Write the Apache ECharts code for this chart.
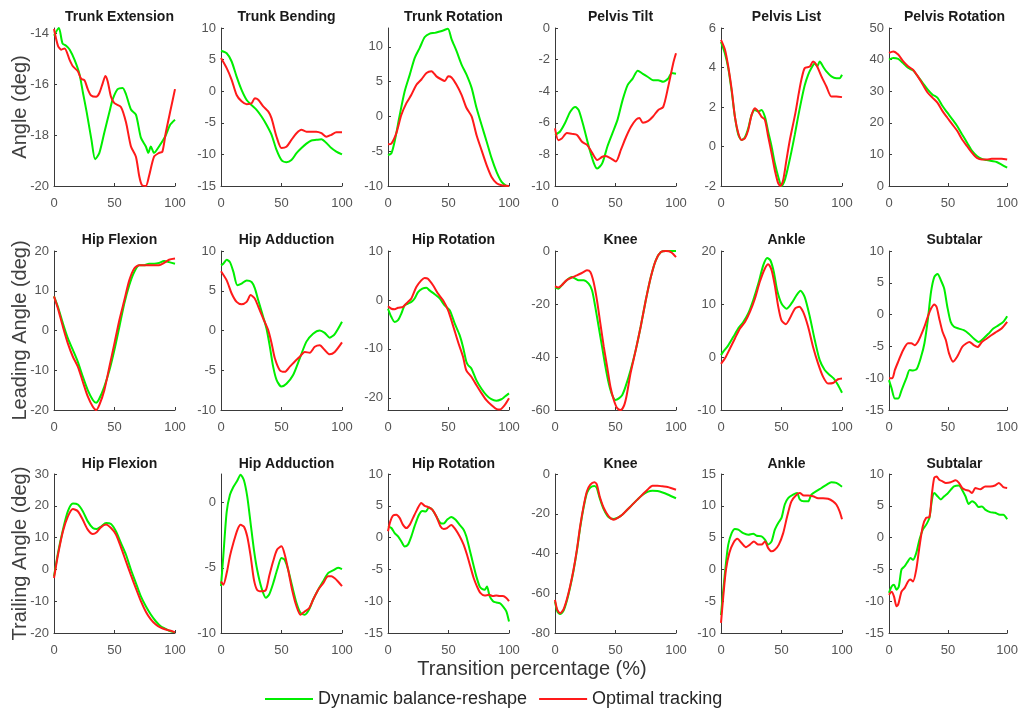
<!DOCTYPE html>
<html>
<head>
<meta charset="utf-8">
<script src="https://cdn.jsdelivr.net/npm/echarts@6/dist/echarts.min.js"></script>
<style>html,body{margin:0;padding:0;background:#fff;}#chart{width:1021px;height:709px;}</style>
</head>
<body>
<div id="chart"></div>
<script>
// ---------- DATA ----------
const seriesNames = ['Dynamic balance-reshape', 'Optimal tracking'];
const titles = ['Trunk Extension','Trunk Bending','Trunk Rotation','Pelvis Tilt','Pelvis List','Pelvis Rotation',
  'Hip Flexion','Hip Adduction','Hip Rotation','Knee','Ankle','Subtalar',
  'Hip Flexion','Hip Adduction','Hip Rotation','Knee','Ankle','Subtalar'];
const rowNames = ['Angle (deg)', 'Leading Angle (deg)', 'Trailing Angle (deg)'];
const xAxisName = 'Transition percentage (%)';
const xTicks = [0, 50, 100];
const yMin  = [-20, -15, -10, -10, -2, 0,   -20, -10, -22.5, -60, -10, -15,   -20, -10, -15, -80, -10, -15];
const yMax  = [-13.8, 10, 12.7, 0, 6, 50,   20, 10, 10, 0, 20, 10,            30, 2.2, 10, 0, 15, 10];
const yStep = [2, 5, 5, 2, 2, 10,           10, 5, 10, 20, 10, 5,             10, 5, 5, 20, 5, 5];
const yBase = [2, 5, 5, 2, 2, 10,           10, 5, 2.5, 20, 10, 5,            10, 5, 5, 20, 5, 5];

// Row 1
const trunkExtG = [[0,-14.1],[4,-13.8],[7,-14.4],[10,-14.5],[13,-14.65],[17,-15.05],[21,-15.6],[24,-16.36],[27,-17.1],[31,-18.2],[34,-18.95],[37.5,-18.7],[41.6,-17.9],[45.8,-17.1],[48.5,-16.6],[52.6,-16.2],[56.7,-16.15],[59.5,-16.4],[63.6,-17.0],[67.7,-17.2],[71.8,-18.1],[75.9,-18.45],[78,-18.7],[80,-18.45],[82.7,-18.7],[86.8,-18.45],[92,-18.05],[96,-17.6],[100,-17.4]];
const trunkExtR = [[0,-13.84],[3.3,-14.5],[6,-14.65],[8.8,-14.6],[12.9,-15.05],[15.6,-15.3],[19.7,-15.5],[22.5,-15.8],[25.2,-15.85],[27.9,-16.2],[30.7,-16.45],[34.8,-16.5],[37.5,-16.35],[40.3,-15.96],[42.5,-15.68],[44.4,-15.9],[47.1,-16.5],[49.9,-16.75],[55.3,-16.9],[59.5,-17.5],[63.6,-18.45],[67.7,-18.85],[70.4,-19.6],[72.6,-19.96],[75.9,-20],[78.6,-19.6],[82.7,-18.85],[86.8,-18.7],[89.6,-18.65],[92.3,-17.93],[96.4,-17.0],[100,-16.2]];
const trunkBendG = [[0,6.4],[4.7,6.0],[8.8,4.7],[12.9,2.3],[17,0.2],[21.2,-1.4],[25.3,-2.2],[29.4,-2.95],[33.5,-4.0],[37.6,-5.3],[41.8,-6.9],[45.9,-9.3],[50,-10.9],[54.1,-11.25],[58.2,-10.9],[62.4,-9.8],[66.5,-9.0],[70.6,-8.3],[74.7,-7.8],[78.8,-7.7],[83,-7.6],[87.1,-8.2],[91.2,-9.0],[95.3,-9.55],[100,-10.0]];
const trunkBendR = [[0,5.25],[4.7,3.65],[8.8,1.8],[12.9,-0.6],[17,-1.6],[21.2,-2.05],[25.3,-1.9],[28,-1.1],[30.8,-1.35],[34.9,-2.4],[39,-3.2],[41.8,-4.3],[45.9,-7.2],[50,-9.0],[54.1,-8.8],[58.2,-7.7],[62.4,-6.65],[66.5,-6.1],[70.6,-6.4],[74.7,-6.4],[78.8,-6.4],[83,-6.65],[87.1,-7.2],[91.2,-6.9],[95.3,-6.5],[100,-6.5]];
const trunkRotG = [[0,-5.57],[2.8,-5.3],[5.5,-3.6],[9.7,0.2],[13.8,3.6],[18,6.0],[22.1,8.4],[26.2,9.85],[30.4,11.4],[34.5,11.9],[38.7,12.0],[42.8,12.2],[45.6,12.35],[49.5,12.6],[52.5,11.1],[56.6,9.4],[60.8,7.45],[64.9,6.0],[69.1,4.1],[73.2,1.2],[77.3,-1.2],[81.5,-3.6],[85.6,-6.0],[89.8,-8.0],[93.9,-9.4],[98,-10.0],[100,-10.1]];
const trunkRotR = [[0,-4.0],[2.8,-3.9],[6.9,-2.4],[11,0.2],[15.2,1.9],[19.3,3.1],[23.5,4.55],[27.6,5.3],[31.8,6.25],[35.9,6.5],[40,5.75],[44.2,5.3],[47,5.1],[49.7,5.75],[52.5,5.6],[56.6,4.55],[60.8,3.1],[64.9,1.2],[69.1,0.0],[73.2,-2.7],[77.3,-4.85],[81.5,-7.0],[85.6,-8.7],[89.8,-9.6],[93.9,-9.9],[100,-10.0]];
const pelvisTiltG = [[0,-6.77],[4.2,-6.55],[8.4,-6.0],[12.6,-5.3],[16.8,-5.0],[19.6,-5.2],[23.7,-6.25],[27.9,-7.5],[32.1,-8.55],[34.9,-8.9],[39.1,-8.55],[43.3,-7.5],[47.5,-6.65],[51.7,-5.8],[55.9,-4.55],[60.1,-3.6],[64.2,-3.2],[68.4,-2.7],[72.6,-2.9],[76.8,-3.1],[81,-3.3],[85.2,-3.3],[89.4,-3.4],[93.6,-3.2],[96.4,-2.85],[100,-2.9]];
const pelvisTiltR = [[0,-6.35],[2.8,-7.1],[5.6,-7.0],[9.8,-6.65],[14,-6.7],[18.2,-6.77],[22.3,-7.2],[26.5,-7.4],[30.7,-7.9],[34.9,-8.35],[39.1,-8.15],[41.9,-8.1],[46.1,-8.25],[50.3,-8.45],[54.5,-7.7],[58.7,-6.9],[62.8,-6.25],[67,-5.8],[69.8,-5.7],[72.6,-6.0],[76.8,-5.9],[81,-5.6],[85.2,-5.2],[89.4,-5.0],[93.6,-3.7],[97.8,-2.2],[100,-1.6]];
const pelvisListG = [[0,5.3],[3.3,4.7],[6,3.97],[8.8,2.8],[11.5,1.5],[14.3,0.6],[17,0.33],[19.8,0.47],[22.5,0.92],[25.3,1.6],[28,1.85],[30.8,1.77],[33.5,1.85],[36.3,1.5],[39,0.75],[41.8,0.0],[44.5,-0.85],[47.3,-1.53],[50,-2.0],[52.7,-1.7],[55.5,-1.02],[58.2,-0.26],[61,0.6],[63.7,1.5],[66.5,2.36],[69.2,3.1],[72,3.63],[74.7,3.97],[77.5,4.22],[79.4,4.05],[81.6,4.3],[84.3,4.05],[87.1,3.8],[91.2,3.55],[95.3,3.46],[98,3.46],[100,3.63]];
const pelvisListR = [[0,5.4],[3.3,4.9],[6,4.05],[8.8,2.9],[11.5,1.5],[14.3,0.67],[17,0.33],[19.8,0.42],[22.5,0.84],[25.3,1.6],[28,1.94],[30.8,1.77],[33.5,1.5],[36.3,1.35],[39,0.5],[41.8,-0.34],[44.5,-1.2],[47.3,-1.87],[49.2,-2.0],[51.4,-1.7],[54.1,-0.68],[56.9,0.33],[61.5,1.7],[64.3,2.7],[66.5,3.4],[69.2,3.97],[73.4,4.05],[76.1,4.3],[78.8,4.14],[83,3.55],[87.1,3.04],[91.2,2.53],[95.3,2.53],[100,2.5]];
const pelvisRotG = [[0,40],[3.6,40.5],[7.8,40.2],[11.9,38.9],[16.1,37.4],[20.3,36.6],[24.4,34.7],[28.6,32.6],[32.8,30.5],[36.9,28.9],[41.1,27.9],[45.3,25.3],[49.4,23.2],[53.6,21.1],[57.8,18.9],[61.9,16.3],[66.1,13.7],[70.3,11.1],[74.4,9.5],[78.6,8.6],[82.8,8.2],[86.9,7.9],[91.1,7.6],[95.3,6.8],[100,5.8]];
const pelvisRotR = [[0,42.1],[3.6,42.6],[7.8,41.6],[11.9,39.5],[16.1,37.9],[20.3,36.8],[24.4,34.7],[28.6,32.1],[32.8,29.5],[36.9,27.9],[41.1,26.3],[45.3,23.7],[49.4,21.6],[53.6,19.5],[57.8,17.4],[61.9,14.7],[66.1,12.6],[70.3,10.5],[74.4,8.9],[78.6,8.4],[82.8,8.4],[86.9,8.6],[91.1,8.6],[95.3,8.6],[100,8.4]];
// Row 2 (leading)
const hipFlexLG = [[0,8.6],[3.3,5.9],[7.4,1.75],[11.5,-2.0],[15.6,-4.9],[19.7,-7.9],[23.8,-11.6],[27.9,-15.0],[32.1,-17.5],[34.8,-18.2],[37.5,-17.1],[41.6,-14.1],[45.8,-10.0],[49.9,-4.9],[54,0.9],[58.1,6.8],[62.2,11.4],[66.3,14.7],[70.4,16.4],[74.5,16.4],[78.6,16.8],[82.7,16.8],[86.8,17.0],[91,17.5],[95.1,17.2],[100,16.8]];
const hipFlexLR = [[0,8.6],[3.3,5.5],[7.4,0.9],[11.5,-3.3],[15.6,-6.6],[19.7,-9.1],[23.8,-12.9],[27.9,-16.6],[32.1,-19.2],[34.8,-20],[37.5,-18.7],[41.6,-15],[45.8,-9.1],[49.9,-3.3],[54,2.6],[58.1,7.6],[62.2,12.6],[66.3,15.6],[70.4,16.4],[74.5,16.4],[78.6,16.4],[82.7,16.4],[86.8,16.4],[91,17.0],[95.1,17.8],[100,18.1]];
const hipAddLG = [[0,8.2],[1.9,8.4],[4.7,8.9],[7.4,8.6],[10.2,7.4],[13.5,5.7],[17,5.9],[21.2,6.3],[25.3,6.1],[28,5.3],[30.8,3.8],[34.9,1.7],[37.6,0.25],[40.4,-2.05],[43.1,-4.55],[45.9,-6.2],[50,-7.05],[54.1,-6.7],[59.6,-5.6],[65.1,-3.5],[70.6,-1.4],[76.1,-0.4],[81.6,0.0],[85.7,-0.3],[89.8,-0.9],[94,-0.45],[100,1.1]];
const hipAddLR = [[0,7.45],[4.7,6.3],[8.8,4.65],[12.9,3.6],[17,3.3],[21.2,3.6],[24.5,4.45],[28,4.0],[30.8,3.0],[34.9,1.5],[39,0.04],[41.8,-1.6],[44.5,-3.5],[48.6,-5.0],[52.7,-5.2],[56.9,-4.55],[61,-3.9],[65.1,-3.3],[69.2,-2.7],[73.4,-2.8],[77.5,-2.05],[81.6,-1.85],[85.7,-2.45],[89.8,-3.0],[94,-2.7],[100,-1.5]];
const hipRotLG = [[0,-1.8],[2.8,-3.5],[5.5,-4.5],[8.3,-4.15],[11,-2.8],[13.8,-1.1],[16.5,-0.75],[19.3,-0.4],[22,0.3],[24.8,1.6],[28.4,2.3],[31.7,2.5],[34.4,1.95],[38.6,1.15],[42.7,0.3],[46.8,-1.1],[51,-2.1],[55.1,-4.8],[59.2,-7.2],[62,-9.6],[64.7,-12.6],[66.1,-13.3],[68.9,-14],[73,-16.4],[77.1,-18.1],[81.3,-19.45],[85.4,-20.3],[89.5,-20.6],[93.7,-20.3],[96.4,-19.8],[100,-19.1]];
const hipRotLR = [[0,-1.3],[2.8,-1.8],[5.5,-1.9],[8.3,-1.6],[12.4,-1.4],[16.5,-0.4],[19.3,0.3],[23.4,2.65],[27.5,4.0],[30.3,4.5],[33,4.35],[37.2,3.0],[41.3,1.3],[45.5,-0.07],[49.6,-2.1],[53.7,-5.2],[57.9,-8.6],[62,-11.6],[64.7,-14.4],[68.9,-15.7],[73,-17.4],[77.1,-19.0],[81.3,-20.5],[85.4,-21.5],[89,-22.2],[92.3,-22.4],[96.4,-21.5],[100,-20.1]];
const kneeLG = [[0,-13.8],[2.8,-14.2],[5.6,-12.9],[9.7,-11.0],[13.9,-9.8],[16.7,-10.4],[19.4,-11.0],[23.6,-11.0],[27.8,-12.3],[30.6,-14.8],[33.3,-21.1],[36.1,-28.6],[38.9,-36.1],[41.7,-43.7],[44.4,-49.9],[47.2,-54.3],[50,-56.2],[52.8,-55.6],[55.6,-54.3],[58.3,-51.2],[62.5,-44.9],[66.7,-37.4],[70.8,-28.6],[75,-18.6],[79.2,-9.8],[83.3,-3.5],[87.5,-0.4],[91.7,0],[95.8,0],[100,0]];
const kneeLR = [[0,-13.3],[2.8,-13.8],[5.6,-12.9],[9.7,-11.0],[13.9,-10.0],[18.1,-9.2],[22.2,-8.3],[26.4,-7.3],[29.2,-7.9],[31.9,-11.7],[34.7,-18.6],[37.5,-27.4],[40.3,-36.1],[43.1,-43.7],[45.8,-51.2],[48.6,-56.2],[51.4,-59.3],[54.2,-60],[56.9,-58.5],[59,-55],[62.5,-46],[66.7,-37.4],[70.8,-28.6],[75,-18.6],[79.2,-9.8],[83.3,-3.5],[87.5,-0.4],[91.7,0],[95.8,-0.4],[100,-2.3]];
const ankleLG = [[0,0.35],[1.9,1.0],[6,2.2],[10.2,3.8],[14.3,5.4],[18.4,6.6],[22.5,8.2],[26.6,10.7],[30.8,13.8],[34.9,17.3],[38.2,18.7],[40.9,18.2],[43.7,16.0],[46.4,12.6],[50,10.1],[54.1,9.1],[58.2,10.1],[62.4,11.65],[65.7,12.5],[69.2,11.3],[73.4,7.6],[77.5,3.2],[81.6,-0.6],[85.7,-2.45],[89.8,-3.4],[93.1,-4.05],[96.7,-5.3],[100,-6.75]];
const ankleLR = [[0,-1.3],[3.3,-0.25],[7.4,1.6],[11.5,3.5],[15.7,5.4],[19.8,6.6],[23.9,8.5],[28,11.0],[32.1,14.2],[36.3,16.7],[39,17.5],[41.8,16.4],[44.5,13.5],[47.3,9.5],[50,6.9],[53.6,6.2],[56.9,7.3],[61,9.1],[64.6,9.5],[67.9,8.5],[72,5.7],[76.1,1.9],[80.2,-1.2],[84.3,-3.7],[88.5,-5.0],[92.6,-4.9],[96.7,-4.2],[100,-4.05]];
const subtalarLG = [[0,-10.3],[2.2,-11.6],[5,-13.2],[7.8,-13.2],[10.6,-11.9],[14.7,-10.0],[17.5,-8.7],[20.3,-8.8],[23.6,-8.5],[27.2,-6.6],[30,-4.5],[32.8,-0.9],[35.6,3.6],[38.3,5.9],[41.1,6.4],[43.9,5.4],[46.7,4.1],[49.4,1.2],[52.2,-1.15],[55,-1.9],[59.2,-2.2],[63.3,-2.45],[67.5,-3.0],[71.7,-3.75],[75.8,-4.3],[80,-3.75],[84.2,-3.0],[88.3,-2.2],[92.5,-1.7],[96.7,-1.15],[100,-0.25]];
const subtalarLR = [[0,-10.0],[2.8,-10.0],[5,-8.7],[7.8,-7.4],[11.9,-5.6],[16.1,-4.5],[18.9,-4.5],[21.7,-4.8],[24.4,-4.3],[27.2,-3.2],[30,-1.9],[32.8,-0.35],[35.6,0.95],[38.3,1.6],[40.3,1.2],[42.5,-0.6],[45.3,-2.7],[48.1,-4.0],[50.8,-6.1],[54.2,-7.4],[57.8,-6.6],[61.9,-5.1],[65.3,-4.55],[68.1,-4.3],[71.7,-4.8],[75,-5.1],[78.6,-4.3],[82.8,-3.75],[86.9,-3.2],[91.1,-2.7],[95.3,-2.2],[100,-1.15]];
// Row 3 (trailing)
const hipFlexTG = [[0,-2.2],[3.3,5.2],[7.4,12.5],[11.5,18.3],[15.6,20.7],[19.7,20.4],[23.8,18.3],[27.9,15.1],[32.1,13.0],[35.3,12.7],[38.9,13.5],[43,14.6],[47.1,14.3],[51.2,12.0],[55.3,8.3],[59.5,4.6],[63.6,-0.1],[67.7,-4.3],[71.8,-8.5],[75.9,-11.6],[80,-14.2],[84.1,-16.3],[88.2,-17.9],[92.3,-18.7],[96.4,-19.5],[100,-19.8]];
const hipFlexTR = [[0,-2.7],[3.3,4.6],[7.4,12.0],[11.5,16.7],[15.6,19.0],[19.7,18.3],[23.8,15.6],[27.9,12.5],[32.1,11.1],[35.3,11.7],[38.9,13.3],[43,14.1],[47.1,13.0],[51.2,11.0],[55.3,7.0],[59.5,2.5],[63.6,-1.8],[67.7,-6.0],[71.8,-10.0],[75.9,-13.3],[80,-15.7],[84.1,-17.3],[88.2,-18.3],[92.3,-18.9],[96.4,-19.3],[100,-19.8]];
const hipAddTG = [[0,-6.4],[1.9,-4.1],[4.7,-0.7],[7.4,0.6],[10.2,1.2],[13.5,1.7],[16.2,2.15],[19,1.7],[21.7,0.46],[24.5,-1.6],[27.2,-3.6],[29.9,-5.15],[33.5,-6.55],[37.1,-7.3],[39.8,-7.05],[43.1,-6.2],[46.4,-5.15],[50,-4.25],[52.7,-4.4],[55.5,-5.15],[58.8,-6.4],[62.4,-7.7],[65.7,-8.45],[69.2,-8.6],[72.8,-8.2],[76.1,-7.45],[80.2,-6.7],[84.3,-6.05],[88.5,-5.4],[92.6,-5.2],[96.7,-5.0],[100,-5.1]];
const hipAddTR = [[0,-6.05],[1.9,-6.3],[4.7,-5.4],[7.4,-4.1],[10.2,-3.1],[13.5,-2.1],[16.2,-1.7],[19,-1.85],[21.7,-2.6],[24.5,-4.1],[27.2,-5.9],[29.9,-6.7],[33.5,-6.8],[37.1,-6.7],[39.8,-5.65],[43.1,-4.5],[46.4,-3.6],[50,-3.35],[52.7,-4.0],[55.5,-5.15],[58.8,-6.7],[62.4,-7.95],[65.7,-8.6],[69.2,-8.35],[72.8,-8.1],[76.1,-7.45],[80.2,-6.7],[84.3,-6.2],[88.5,-5.65],[91.2,-5.65],[94,-5.8],[96.7,-6.05],[100,-6.4]];
const hipRotTG = [[0,1.8],[2.8,1.5],[5.5,0.7],[8.3,0.2],[11,-0.6],[13.8,-1.4],[16.5,-1.1],[19.3,0.2],[22,1.8],[25.6,3.6],[28.4,4.2],[31.1,4.1],[33.9,4.75],[36.6,4.4],[39.9,3.35],[43.3,2.3],[46,2.2],[48.8,2.8],[52.3,3.25],[55.9,2.8],[59.2,2.0],[62.5,1.25],[64.7,0.2],[67.5,-1.9],[70.2,-4.0],[73,-6.1],[75.8,-7.7],[78,-8.1],[79.9,-8.2],[81.8,-7.7],[84,-9.2],[86.8,-10.0],[89.5,-10.2],[92.3,-10.3],[95,-10.8],[97.8,-11.6],[100,-13.2]];
const hipRotTR = [[0,1.0],[1.9,2.55],[4.1,3.45],[6.9,3.6],[9.6,3.1],[12.4,2.0],[15.2,1.5],[17.9,2.0],[20.7,3.1],[24,4.4],[27.5,5.45],[30.3,5.0],[33.1,4.8],[36.6,4.4],[39.9,3.35],[43.3,1.8],[46,1.35],[48.8,1.5],[52.3,2.0],[55.9,1.25],[59.2,0.2],[62.5,-1.1],[65.3,-2.7],[68,-4.5],[70.8,-6.35],[73.6,-7.7],[76.3,-8.7],[79.9,-9.1],[83.5,-9.0],[86.8,-9.2],[89.5,-9.1],[92.3,-9.2],[95,-9.2],[97.8,-9.5],[100,-10.0]];
const kneeTG = [[0,-64.1],[1.9,-69.1],[4.2,-70.5],[6.9,-69],[9.7,-64],[12.5,-57],[15.3,-48.7],[18.1,-38.6],[20.8,-27],[23.6,-17],[26.4,-9.5],[29.2,-6.8],[32.5,-6.0],[34.5,-7.0],[36.9,-12],[40.3,-17.8],[44.4,-21.8],[48.6,-22.6],[51.9,-22.0],[55.6,-20.5],[59.7,-18.0],[63.9,-15.4],[68.1,-12.9],[72.2,-10.6],[76.4,-9.0],[80.6,-8.4],[84.7,-8.6],[88.9,-9.3],[93.1,-10.3],[100,-12.2]];
const kneeTR = [[0,-63.3],[1.9,-68.3],[4.2,-70.0],[6.9,-68.3],[9.7,-63.3],[12.5,-56.5],[15.3,-48.2],[18.1,-38.1],[20.8,-26.3],[23.6,-16.3],[26.4,-8.7],[29.2,-5.4],[32.5,-4.2],[34.5,-5.2],[36.9,-11.2],[40.3,-17.1],[44.4,-21.3],[48.6,-23.0],[51.9,-22.1],[55.6,-20.5],[59.7,-18.0],[63.9,-15.4],[68.1,-12.9],[72.2,-10.4],[76.4,-7.9],[80.6,-5.9],[84.7,-5.9],[88.9,-6.2],[93.1,-6.5],[100,-7.9]];
const ankleTG = [[0,-7.2],[1.9,-3.2],[4.1,1.0],[6,3.9],[8.8,5.7],[11.5,6.35],[14.3,6.25],[18.4,5.7],[22.5,5.45],[26.6,5.6],[29.4,5.3],[33.5,5.2],[36.3,4.7],[39,3.9],[41.8,4.4],[44.5,6.25],[47.3,7.3],[50,8.1],[52.7,10.2],[55.5,11.2],[59.6,11.75],[62.9,12.0],[65.1,11.0],[68.4,10.7],[72,10.7],[74.7,11.75],[78.8,12.3],[83,12.8],[87.1,13.3],[91.2,13.7],[95.3,13.6],[100,13.0]];
const ankleTR = [[0,-8.4],[1.9,-4.2],[4.1,-0.05],[6.9,2.6],[10.2,4.15],[13.5,4.8],[17,4.15],[20.6,3.5],[23.9,3.9],[27.2,4.4],[30.8,3.9],[33.5,3.9],[36.3,4.4],[39,3.35],[41.8,2.85],[44.5,3.1],[47.8,3.9],[51.4,5.7],[54.7,8.35],[58.2,10.7],[62.4,11.75],[65.1,12.0],[68.4,11.6],[72,11.6],[76.1,11.5],[80.2,11.2],[84.3,11.2],[88.5,11.1],[92.6,10.7],[95.3,10.2],[98.1,9.1],[100,7.9]];
const subtalarTG = [[0,-8.7],[2.2,-7.7],[4.2,-7.4],[6.4,-8.2],[8.3,-7.7],[10.6,-5.0],[13.3,-4.5],[16.1,-3.7],[18.1,-3.2],[20.3,-3.5],[23.1,-2.4],[25.8,-0.3],[28.6,1.25],[31.4,2.0],[34.2,3.1],[36.4,6.0],[38.3,7.0],[41.1,6.5],[43.9,6.0],[46.7,6.5],[49.4,6.9],[52.2,7.5],[55,8.05],[59.2,8.2],[61.9,7.5],[64.7,6.5],[67.5,5.3],[70.3,5.7],[73.1,5.4],[75.8,4.8],[78.6,4.9],[81.4,4.4],[85.6,4.0],[89.7,3.9],[93.9,3.6],[96.7,3.6],[100,2.9]];
const subtalarTR = [[0,-9.0],[2.2,-8.5],[4.2,-9.25],[6.4,-10.8],[7.8,-10.5],[10.6,-8.5],[13.3,-7.9],[16.1,-6.9],[18.1,-6.6],[20.3,-6.9],[23.1,-5.0],[25.8,-1.4],[28.6,1.8],[31.4,3.1],[34.2,3.2],[36.4,7.0],[38.3,9.4],[40.3,9.6],[42.5,9.1],[45.3,8.85],[48.1,8.6],[52.2,8.7],[56.4,9.0],[59.2,8.6],[61.9,7.8],[64.7,7.5],[67.5,7.4],[70.3,7.0],[73.1,7.8],[77.2,7.6],[81.4,8.05],[85.6,8.05],[89.7,8.2],[93,8.6],[96.7,7.95],[100,7.8]];

const greenData = [trunkExtG, trunkBendG, trunkRotG, pelvisTiltG, pelvisListG, pelvisRotG,
  hipFlexLG, hipAddLG, hipRotLG, kneeLG, ankleLG, subtalarLG,
  hipFlexTG, hipAddTG, hipRotTG, kneeTG, ankleTG, subtalarTG];
const redData = [trunkExtR, trunkBendR, trunkRotR, pelvisTiltR, pelvisListR, pelvisRotR,
  hipFlexLR, hipAddLR, hipRotLR, kneeLR, ankleLR, subtalarLR,
  hipFlexTR, hipAddTR, hipRotTR, kneeTR, ankleTR, subtalarTR];

// ---------- LAYOUT ----------
const colLeft = [54, 221, 388, 555, 721, 889];
const colW = 121;
const rowTop = [28, 251, 474];
const rowH = [158, 159, 159];
const titleTop = [5, 228, 452];
const FONT = 'Liberation Sans, Arial, Helvetica, sans-serif';
const GREEN = '#00ee00', RED = '#ff1a1a';
const AXC = '#3a3a3a';

function multiples(lo, hi, step) {
  const out = [];
  for (let k = Math.ceil(lo / step - 1e-9); k * step <= hi + 1e-9; k++) out.push(Math.round(k * step * 1000) / 1000);
  return out;
}

const grid = [], xAxis = [], yAxis = [], series = [], title = [];
for (let i = 0; i < 18; i++) {
  const r = Math.floor(i / 6), c = i % 6;
  grid.push({ left: colLeft[c], top: rowTop[r], width: colW, height: rowH[r], containLabel: false });
  xAxis.push({
    type: 'value', gridIndex: i, min: xTicks[0], max: xTicks[2], interval: xTicks[1] - xTicks[0],
    axisLine: { show: true, onZero: false, lineStyle: { color: AXC, width: 1 } },
    axisTick: { show: true, inside: true, length: 3, lineStyle: { color: AXC } },
    splitLine: { show: false },
    axisLabel: { color: '#555', fontSize: 13, fontFamily: FONT, margin: 11 }
  });
  const step = yStep[i];
  yAxis.push({
    type: 'value', gridIndex: i, min: yMin[i], max: yMax[i], interval: yBase[i],
    axisLine: { show: true, onZero: false, lineStyle: { color: AXC, width: 1 } },
    axisTick: { show: true, inside: true, length: 3, lineStyle: { color: AXC },
      customValues: multiples(yMin[i], yMax[i], step) },
    splitLine: { show: false },
    name: c === 0 ? rowNames[r] : '', nameLocation: 'middle', nameGap: 24, nameMoveOverlap: false,
    nameTextStyle: { color: '#404040', fontSize: 20, fontFamily: FONT },
    axisLabel: {
      color: '#555', fontSize: 13, fontFamily: FONT, margin: 5,
      formatter: function (v) {
        const q = v / step;
        return Math.abs(q - Math.round(q)) < 1e-6 ? String(Math.round(v * 1000) / 1000) : '';
      }
    }
  });
  title.push({
    text: titles[i], left: colLeft[c] + colW / 2, top: titleTop[r], textAlign: 'center',
    textStyle: { fontSize: 14, fontWeight: 'bold', color: '#1a1a1a', fontFamily: FONT }
  });
  series.push({
    name: seriesNames[0], type: 'line', xAxisIndex: i, yAxisIndex: i, data: greenData[i],
    symbol: 'none', smooth: 0.25, lineStyle: { color: GREEN, width: 2 }, itemStyle: { color: GREEN }, z: 2
  });
  series.push({
    name: seriesNames[1], type: 'line', xAxisIndex: i, yAxisIndex: i, data: redData[i],
    symbol: 'none', smooth: 0.25, lineStyle: { color: RED, width: 2 }, itemStyle: { color: RED }, z: 3
  });
}
title.push({
  text: xAxisName, left: 527, top: 654, textAlign: 'center',
  textStyle: { fontSize: 20, fontWeight: 'normal', color: '#333', fontFamily: FONT }
});

const chart = echarts.init(document.getElementById('chart'), null, { renderer: 'canvas' });
chart.setOption({
  animation: false,
  backgroundColor: '#fff',
  title: title,
  grid: grid, xAxis: xAxis, yAxis: yAxis, series: series,
  legend: {
    data: seriesNames, left: 260, top: 685, icon: 'rect', itemWidth: 48, itemHeight: 2,
    itemGap: 12, textStyle: { fontSize: 18, color: '#262626', fontFamily: FONT, padding: [0, 0, 0, 0] }
  }
});
</script>
</body>
</html>
